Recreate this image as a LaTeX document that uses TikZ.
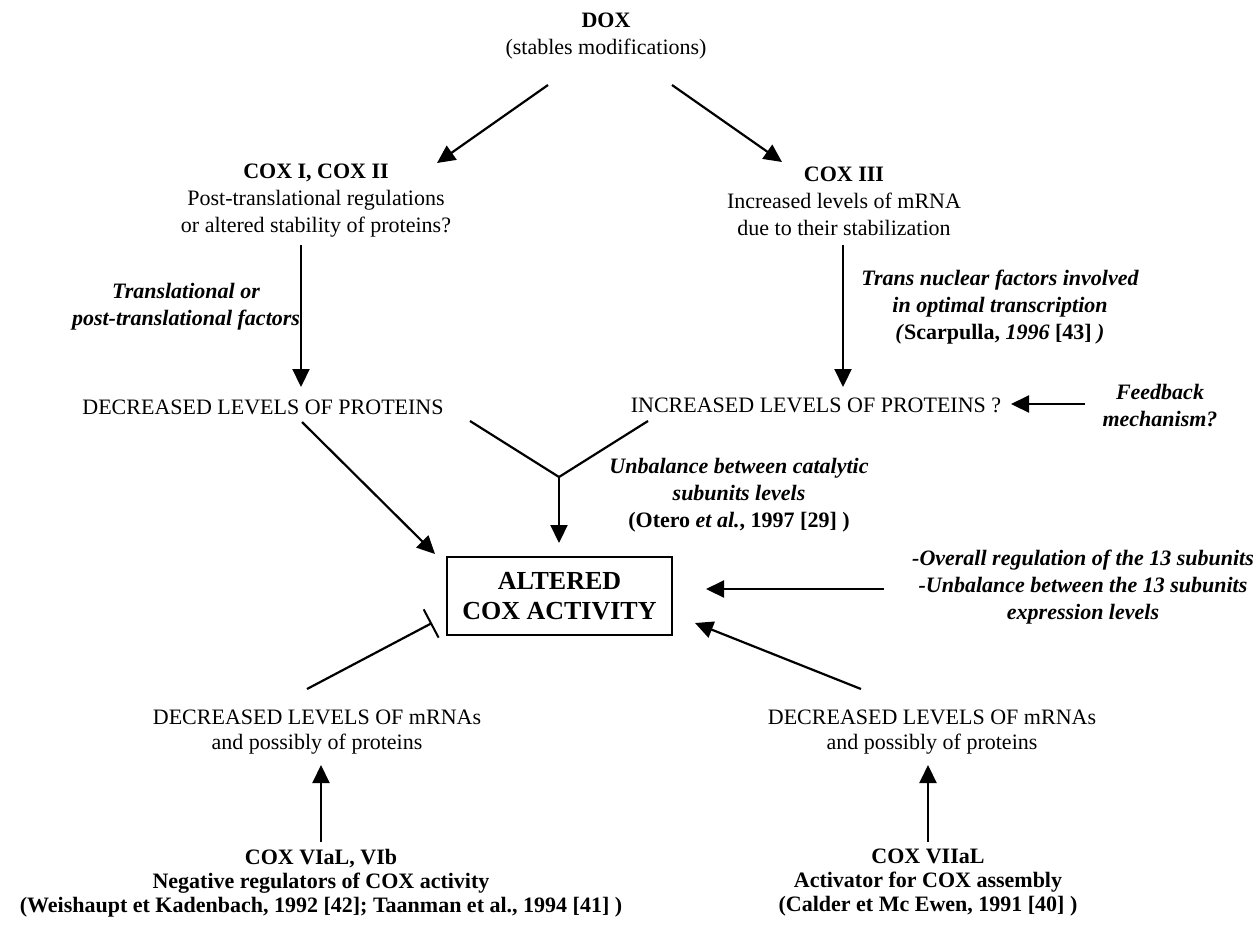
\documentclass[tikz,border=0pt]{standalone}
\usepackage{fontspec}
\setmainfont{Liberation Serif}
\usetikzlibrary{arrows.meta}

\tikzset{
	txt/.style={align=center, inner sep=0pt, font=\fontsize{22}{27}\selectfont},
	lbl/.style={align=center, inner sep=0pt, font=\fontsize{22}{27}\selectfont\bfseries\itshape},
	src/.style={align=center, inner sep=0pt, font=\fontsize{22}{24}\selectfont\bfseries},
	arr/.style={line width=2.2pt, -{Triangle[length=18pt,width=17pt]}},
	inhib/.style={line width=2.2pt, -{Bar[width=32pt,line width=2pt]}},
	branch/.style={line width=2.2pt},
}

\begin{document}
\begin{tikzpicture}[x=1pt, y=-1pt]
	  \useasboundingbox (0,0) rectangle (1260,930);
	  %\draw[gray] (0,0) rectangle (1260,930);
	  % texts
	  \node[txt] (dox) at (606,36) {\textbf{DOX}\\(stables modifications)};
	  \node[txt] (cox12) at (316,201) {\textbf{COX I, COX II}\\Post-translational regulations\\or altered stability of proteins?};
	  \node[txt] (cox3) at (844,201) {\textbf{COX III}\\Increased levels of mRNA\\due to their stabilization};
	  \node[lbl] (transl) at (186,307) {Translational or\\post-translational factors};
	  \node[lbl] (transnuc) at (1000,307) {Trans nuclear factors involved\\in optimal transcription\\(\textup{Scarpulla,} 1996 \textup{[43]} )};
	  \node[txt] (decprot) at (263,407) {DECREASED LEVELS OF PROTEINS};
	  \node[txt] (incprot) at (816,405) {INCREASED LEVELS OF PROTEINS ?};
	  \node[lbl] (feedb) at (1160,406) {Feedback\\mechanism?};
	  \node[lbl] (unbal) at (739,495) {Unbalance between catalytic\\subunits levels\\\textup{(Otero} et al.\textup{, 1997 [29] )}};
	  \node[draw, line width=1.2pt, minimum width=225pt, minimum height=78pt, align=center, inner sep=0pt,
	        font=\fontsize{26}{30}\selectfont\bfseries] (cox) at (559.5,596) {ALTERED\\COX ACTIVITY};
	  \node[lbl] (overall) at (1083,587) {-Overall regulation of the 13 subunits\\-Unbalance between the 13 subunits\\expression levels};
	  \node[txt, font=\fontsize{22}{25}\selectfont] (decmL) at (317,732) {DECREASED LEVELS OF mRNAs\\and possibly of proteins};
	  \node[txt, font=\fontsize{22}{25}\selectfont] (decmR) at (932,732) {DECREASED LEVELS OF mRNAs\\and possibly of proteins};
	  \node[src] (vi) at (321,883) {COX VIaL, VIb\\Negative regulators of COX activity\\(Weishaupt et Kadenbach, 1992 [42]; Taanman et al., 1994 [41] )};
	  \node[src] (vii) at (928,883) {COX VIIaL\\Activator for COX assembly\\(Calder et Mc Ewen, 1991 [40] )};
	  % arrow ends
	  \coordinate (doxL) at (548,85);
	  \coordinate (doxR) at (672,85);
	  \coordinate (cox12in) at (437,163);
	  \coordinate (cox3in) at (782,162);
	  \coordinate (cox12out) at (301,245);
	  \coordinate (cox3out) at (843,245);
	  \coordinate (decin) at (301,387);
	  \coordinate (incin) at (843,387);
	  \coordinate (decout) at (302,422);
	  \coordinate (decY) at (470,421);
	  \coordinate (incY) at (648,421);
	  \coordinate (joint) at (559,477);
	  \coordinate (coxtop) at (559,543);
	  \coordinate (coxTL) at (435,554);
	  \coordinate (feedout) at (1085,404);
	  \coordinate (incend) at (1011,404);
	  \coordinate (overout) at (884,589);
	  \coordinate (coxR) at (706,589);
	  \coordinate (decmLout) at (307,689);
	  \coordinate (coxBL) at (432,623);
	  \coordinate (decmRout) at (861,689);
	  \coordinate (coxBR) at (695,623);
	  \coordinate (viout) at (321,842);
	  \coordinate (decmLin) at (321,765);
	  \coordinate (viiout) at (928,842);
	  \coordinate (decmRin) at (928,765);
	  % connectors
	  \draw[arr] (doxL) -- (cox12in);
	  \draw[arr] (doxR) -- (cox3in);
	  \draw[arr] (cox12out) -- (decin);
	  \draw[arr] (cox3out) -- (incin);
	  \draw[arr] (decout) -- (coxTL);
	  \draw[branch] (decY) -- (joint) -- (incY);
	  \draw[arr] (joint) -- (coxtop);
	  \draw[arr] (feedout) -- (incend);
	  \draw[arr] (overout) -- (coxR);
	  \draw[inhib] (decmLout) -- (coxBL);
	  \draw[arr] (decmRout) -- (coxBR);
	  \draw[arr] (viout) -- (decmLin);
	  \draw[arr] (viiout) -- (decmRin);
	\end{tikzpicture}
\end{document}
